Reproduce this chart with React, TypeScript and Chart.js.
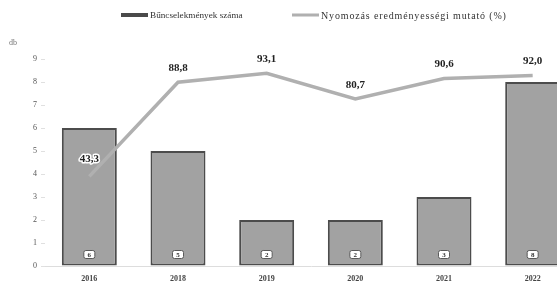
import React, { useEffect, useRef } from "react";
import { Chart, registerables } from "chart.js";

Chart.register(...registerables);

const years = ["2016", "2018", "2019", "2020", "2021", "2022"];
const crimeCounts = [6, 5, 2, 2, 3, 8];
const clearanceRates = [43.3, 88.8, 93.1, 80.7, 90.6, 92.0];
const seriesNames = ["Bűncselekmények száma", "Nyomozás eredményességi mutató (%)"];
const yUnit = "db";
const countMax = 9;
const rateMax = 100;

const SERIF = "'Liberation Serif', 'Times New Roman', serif";

function roundRect(ctx: CanvasRenderingContext2D, x: number, y: number, w: number, h: number, r: number) {
  ctx.beginPath();
  ctx.moveTo(x + r, y);
  ctx.lineTo(x + w - r, y);
  ctx.quadraticCurveTo(x + w, y, x + w, y + r);
  ctx.lineTo(x + w, y + h - r);
  ctx.quadraticCurveTo(x + w, y + h, x + w - r, y + h);
  ctx.lineTo(x + r, y + h);
  ctx.quadraticCurveTo(x, y + h, x, y + h - r);
  ctx.lineTo(x, y + r);
  ctx.quadraticCurveTo(x, y, x + r, y);
  ctx.closePath();
}

const overlayPlugin = {
  id: "overlay",
  afterDatasetsDraw(chart: any) {
    const ctx: CanvasRenderingContext2D = chart.ctx;
    const barMeta = chart.getDatasetMeta(0);
    barMeta.data.forEach((el: any, i: number) => {
      const v = chart.data.datasets[0].data[i];
      const x = el.x;
      const y = el.base - 11;
      ctx.save();
      ctx.fillStyle = "#ffffff";
      ctx.strokeStyle = "#5a5a5a";
      ctx.lineWidth = 1;
      roundRect(ctx, x - 5.5, y - 4, 11, 8, 2);
      ctx.fill();
      ctx.stroke();
      ctx.fillStyle = "#333";
      ctx.font = `bold 7px ${SERIF}`;
      ctx.textAlign = "center";
      ctx.textBaseline = "middle";
      ctx.fillText(String(v), x, y + 0.5);
      ctx.restore();
    });
    const lineMeta = chart.getDatasetMeta(1);
    lineMeta.data.forEach((el: any, i: number) => {
      const v = chart.data.datasets[1].data[i] as number;
      const label = v.toFixed(1).replace(".", ",");
      ctx.save();
      ctx.font = `bold 11px ${SERIF}`;
      ctx.textAlign = "center";
      ctx.textBaseline = "middle";
      const off = i === 0 ? 17 : 14;
      ctx.lineWidth = 3;
      ctx.strokeStyle = "#ffffff";
      ctx.lineJoin = "round";
      ctx.strokeText(label, el.x, el.y - off);
      ctx.fillStyle = "#222";
      ctx.fillText(label, el.x, el.y - off);
      ctx.restore();
    });
  },
  afterDraw(chart: any) {
    const ctx: any = chart.ctx;
    ctx.save();
    // unit label
    ctx.font = `8px ${SERIF}`;
    ctx.fillStyle = "#777";
    ctx.textAlign = "left";
    ctx.textBaseline = "middle";
    ctx.fillText(yUnit, 9, 43);
    // legend
    const ds = chart.data.datasets;
    const y = 15;
    ctx.fillStyle = "#4a4a4a";
    ctx.fillRect(121, y - 2, 27, 4);
    ctx.fillStyle = "#333";
    ctx.font = `9.2px ${SERIF}`;
    ctx.fillText(ds[0].label, 150, y + 1);
    ctx.fillStyle = ds[1].borderColor;
    ctx.fillRect(292, y - 1.5, 27, 3);
    ctx.fillStyle = "#333";
    ctx.font = `10px ${SERIF}`;
    ctx.letterSpacing = "0.85px";
    ctx.fillText(ds[1].label, 321, y + 1);
    ctx.restore();
  },
};

export default function App() {
  const ref = useRef<HTMLCanvasElement>(null);
  useEffect(() => {
    if (!ref.current) return;
    const chart = new Chart(ref.current, {
      type: "bar",
      data: {
        labels: years,
        datasets: [
          {
            type: "bar",
            label: seriesNames[0],
            data: crimeCounts,
            backgroundColor: "#a2a2a2",
            borderColor: "#4c4c4c",
            borderWidth: 2,
            borderSkipped: false,
            yAxisID: "y",
            order: 2,
            categoryPercentage: 1,
            barPercentage: 0.62,
          } as any,
          {
            type: "line",
            label: seriesNames[1],
            data: clearanceRates,
            borderColor: "#b0b0b0",
            backgroundColor: "#b0b0b0",
            borderWidth: 3.5,
            pointRadius: 0,
            tension: 0,
            yAxisID: "y2",
            order: 1,
          } as any,
        ],
      },
      options: {
        responsive: false,
        animation: false,
        devicePixelRatio: 1,
        layout: { padding: { top: 59, right: 23, left: 0, bottom: 0 } },
        plugins: {
          legend: { display: false },
          tooltip: { enabled: false },
        },
        scales: {
          x: {
            grid: { display: false },
            border: { color: "#dddddd" },
            ticks: { color: "#444", font: { family: SERIF, size: 8, weight: "bold" }, padding: 0 },
            afterFit: (s: any) => {
              s.height = 18;
            },
          },
          y: {
            min: 0,
            max: countMax,
            ticks: { stepSize: 1, color: "#555", font: { family: SERIF, size: 8 }, padding: 4 },
            grid: { drawOnChartArea: false, tickLength: 4, color: "#e0e0e0" },
            border: { display: false },
            afterFit: (s: any) => {
              s.width = 45;
            },
          },
          y2: {
            display: false,
            min: 0,
            max: rateMax,
          },
        },
      } as any,
      plugins: [overlayPlugin],
    });
    return () => chart.destroy();
  }, []);
  return (
    <div
      style={{
        position: "fixed",
        left: 0,
        top: 0,
        width: 557,
        height: 284,
        overflow: "hidden",
        background: "#fff",
      }}
    >
      <canvas ref={ref} width={600} height={284} style={{ display: "block" }} />
    </div>
  );
}
